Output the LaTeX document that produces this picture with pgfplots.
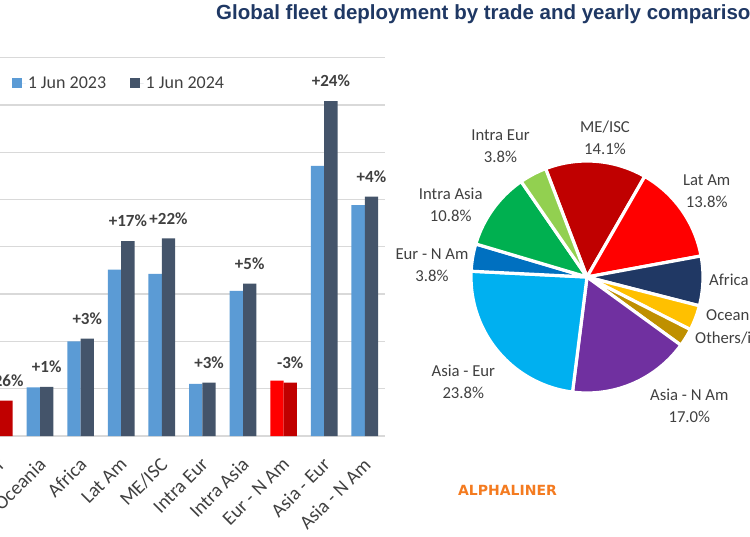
\documentclass[border=0pt]{standalone}
\usepackage{pgfplots}
\pgfplotsset{compat=1.18}
\usepackage{fontspec}
\setmainfont{Carlito}
\newfontfamily\titlefont{Liberation Sans}
\newfontfamily\brandfont{DejaVu Sans}

\definecolor{c23}{HTML}{5B9BD5}
\definecolor{c24}{HTML}{44546A}
\definecolor{r23}{HTML}{FF0000}
\definecolor{r24}{HTML}{C00000}
\definecolor{txt}{HTML}{404040}
\definecolor{gridc}{HTML}{D9D9D9}
\definecolor{titleblue}{HTML}{1F3864}
\definecolor{brand}{HTML}{F47B20}
% pie colours
\definecolor{pME}{HTML}{C00000}
\definecolor{pLat}{HTML}{FF0000}
\definecolor{pAfr}{HTML}{203864}
\definecolor{pOce}{HTML}{FFC000}
\definecolor{pOth}{HTML}{BF9000}
\definecolor{pANA}{HTML}{7030A0}
\definecolor{pAE}{HTML}{00B0F0}
\definecolor{pENA}{HTML}{0070C0}
\definecolor{pIA}{HTML}{00B050}
\definecolor{pIE}{HTML}{92D050}

\begin{document}
\begin{tikzpicture}[x=1pt,y=1pt]
\useasboundingbox (0,0) rectangle (750,536);
\clip (0,0) rectangle (750,536);

% ---------------- bar chart ----------------
\begin{axis}[
  at={(-20.9pt,100pt)}, anchor=south west,
  scale only axis, width=406pt, height=378.4pt,
  xmin=-0.5, xmax=9.5, ymin=0, ymax=8,
  ytick={0,...,8}, yticklabels={},
  ymajorgrids, major grid style={draw=gridc, line width=1.3pt},
  axis line style={draw=none},
  tick style={draw=none},
  xtick={0,...,9},
  xticklabels={Others/inter, Oceania, Africa, Lat Am, ME/ISC, Intra Eur, Intra Asia, Eur - N Am, Asia - Eur, Asia - N Am},
  xticklabel style={xshift=2.5pt, yshift=-21pt, rotate=45, anchor=east, inner sep=0pt, text=txt, font=\fontsize{19.5}{22}\selectfont},
  ybar, bar width=0.328, bar shift=0pt,
  legend style={draw=none, fill=none, at={(axis description cs:0,1)}, anchor=west,
    xshift=33pt, yshift=-25.5pt, legend columns=2, inner sep=0pt,
    font=\fontsize{18}{21}\selectfont, text=txt,
    /tikz/every even column/.append style={column sep=22pt}},
  legend image code/.code={\fill[#1] (0pt,-4.75pt) rectangle (9.5pt,4.75pt); \path (0pt,0pt) -- (13.5pt,0pt);},
  every node near coord/.append style={font=\bfseries\fontsize{17}{20}\selectfont, text=txt, anchor=center, yshift=20pt},
]
\addplot[fill=c23, draw=none] coordinates {
 (0.836,1.03) (1.836,2.00) (2.836,3.52) (3.836,3.43) (4.836,1.10) (5.836,3.07) (7.836,5.71) (8.836,4.88)};
\addlegendentry{1 Jun 2023}
\addplot[fill=c24, draw=none, point meta=explicit symbolic, nodes near coords] coordinates {
 (1.164,1.04) [+1\%]
 (2.164,2.06) [+3\%]
 (3.164,4.12) [+17\%]
 (4.164,4.18) [+22\%]
 (5.164,1.13) [+3\%]
 (6.164,3.22) [+5\%]
 (8.164,7.08) [+24\%]
 (9.164,5.06) [+4\%]};
\addlegendentry{1 Jun 2024}
\addplot[fill=r23, draw=none, forget plot] coordinates {(-0.164,1.01) (6.836,1.17)};
\addplot[fill=r24, draw=none, forget plot, point meta=explicit symbolic, nodes near coords] coordinates {
 (0.164,0.75) [-26\%]
 (7.164,1.13) [-3\%]};
\end{axis}

% ---------------- pie chart ----------------
\begin{axis}[
  at={(587pt,259pt)}, anchor=center,
  scale only axis, width=232pt, height=232pt,
  xmin=-1, xmax=1, ymin=-1, ymax=1, hide axis, clip=false,
  every axis plot/.append style={draw=white, line width=3.2pt, line join=round, samples=40},
]
% shares (%): ME/ISC 14.1, Lat Am 13.8, Africa 6.9, Oceania 3.5, Others 2.5,
% Asia-N Am 17.0, Asia-Eur 23.8, Eur-N Am 3.8, Intra Asia 10.8, Intra Eur 3.8
\addplot[fill=pME,  domain=60.14:110.90] ({cos(x)},{sin(x)}) -- (0,0) -- cycle;
\addplot[fill=pLat, domain=10.46:60.14]  ({cos(x)},{sin(x)}) -- (0,0) -- cycle;
\addplot[fill=pAfr, domain=-14.38:10.46] ({cos(x)},{sin(x)}) -- (0,0) -- cycle;
\addplot[fill=pOce, domain=-26.98:-14.38] ({cos(x)},{sin(x)}) -- (0,0) -- cycle;
\addplot[fill=pOth, domain=-35.98:-26.98] ({cos(x)},{sin(x)}) -- (0,0) -- cycle;
\addplot[fill=pANA, domain=-97.18:-35.98] ({cos(x)},{sin(x)}) -- (0,0) -- cycle;
\addplot[fill=pAE,  domain=-182.86:-97.18] ({cos(x)},{sin(x)}) -- (0,0) -- cycle;
\addplot[fill=pENA, domain=-196.54:-182.86] ({cos(x)},{sin(x)}) -- (0,0) -- cycle;
\addplot[fill=pIA,  domain=-235.42:-196.54] ({cos(x)},{sin(x)}) -- (0,0) -- cycle;
\addplot[fill=pIE,  domain=-249.10:-235.42] ({cos(x)},{sin(x)}) -- (0,0) -- cycle;
\end{axis}

% pie labels
\begin{scope}[every node/.style={align=center, text=txt, inner sep=0pt, font=\fontsize{16.7}{22}\selectfont}]
\node at (605,398) {ME/ISC\\14.1\%};
\node at (500.5,390) {Intra Eur\\3.8\%};
\node at (706.7,345) {Lat Am\\13.8\%};
\node at (450.7,330.7) {Intra Asia\\10.8\%};
\node at (432,271) {Eur - N Am\\3.8\%};
\node at (463.3,154.3) {Asia - Eur\\23.8\%};
\node at (689.3,130) {Asia - N Am\\17.0\%};
\node[anchor=west] at (709,256) {Africa 6.9\%};
\node[anchor=west] at (706,221) {Oceania 3.5\%};
\node[anchor=west] at (695,198) {Others/inter 2.5\%};
\end{scope}

% title and source
\node[anchor=base west, inner sep=0pt, text=titleblue, font=\titlefont\bfseries\fontsize{20.5}{24}\selectfont] at (216,516.5) {Global fleet deployment by trade and yearly comparison};
\node[inner sep=0pt, text=brand, font=\brandfont\bfseries\fontsize{14}{16}\selectfont] at (507.5,46) {ALPHALINER};
\end{tikzpicture}
\end{document}
